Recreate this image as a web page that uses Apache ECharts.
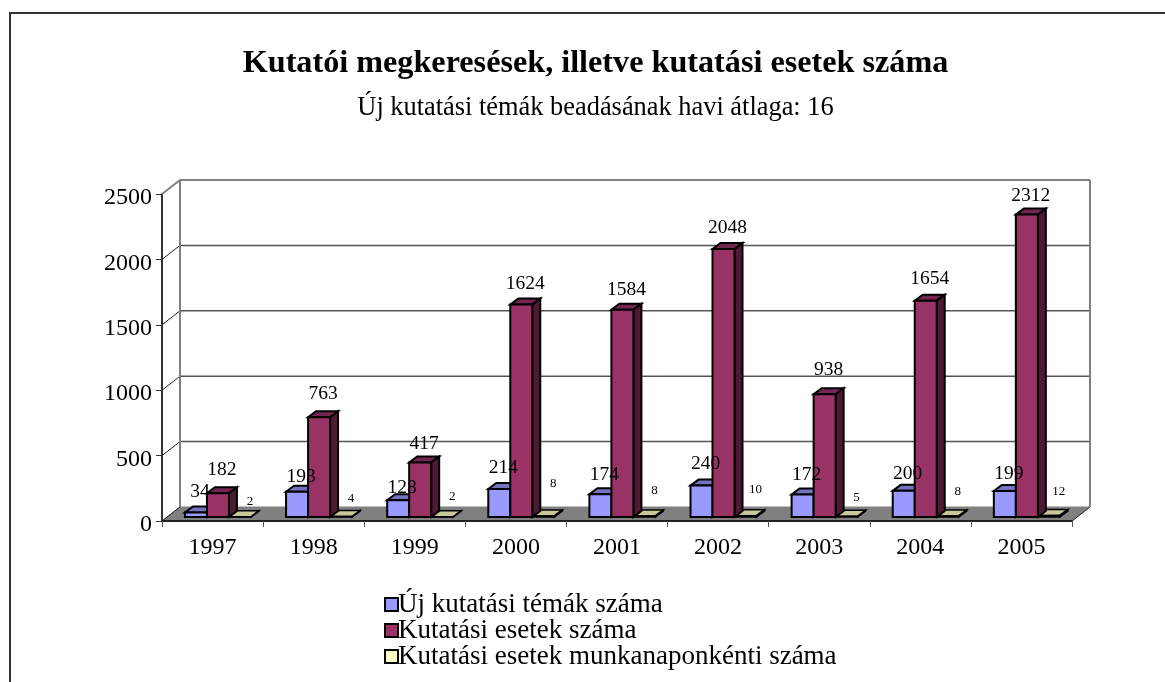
<!DOCTYPE html>
<html>
<head>
<meta charset="utf-8">
<title>Kutatói megkeresések</title>
<style>
  html, body { margin: 0; padding: 0; background: #fff; }
  #chart { width: 1165px; height: 682px; }
</style>
</head>
<body>
<div id="chart"></div>
<script src="https://cdn.jsdelivr.net/npm/echarts@6/dist/echarts.min.js"></script>
<script>
const years = ["1997", "1998", "1999", "2000", "2001", "2002", "2003", "2004", "2005"];
const ujTemak = [34, 193, 128, 214, 174, 240, 172, 200, 199];
const esetek = [182, 763, 417, 1624, 1584, 2048, 938, 1654, 2312];
const munkanaponkent = [2, 4, 2, 8, 8, 10, 5, 8, 12];
const yTicks = [0, 500, 1000, 1500, 2000, 2500];

// how far each value label sits above its bar (the original placed them unevenly)
const ujLift = [15, 9, 6, 15, 13, 16, 14, 11, 11];
const esetekLift = [17, 17, 13, 15, 14, 15, 18, 16, 13];
const munkaLift = [9, 12, 14, 26, 19, 20, 13, 18, 18];

const serif = '"Liberation Serif", "DejaVu Serif", serif';
const depthX = 18, depthY = 14;      // floor depth
const barDepthX = 8, barDepthY = 6;  // bar depth
const barW = 22, barDx = 5.4, barDy = 4;

const chart = echarts.init(document.getElementById("chart"), null, { renderer: "canvas" });

function line(x1, y1, x2, y2, color, width) {
  return {
    type: "line",
    shape: { x1, y1, x2, y2 },
    style: { stroke: color, lineWidth: width },
  };
}

function poly(points, fill, stroke, width) {
  return {
    type: "polygon",
    shape: { points },
    style: { fill, stroke, lineWidth: width, lineJoin: "miter" },
  };
}

// back wall, side wall and floor, one tick at a time
function renderWall(params, api) {
  const sys = params.coordSys;
  const value = api.value(0);
  const y = api.coord([0, value])[1];
  const left = sys.x, right = sys.x + sys.width;
  const children = [];
  if (value === 0) {
    children.push(
      poly(
        [[left, y], [right, y], [right + depthX, y - depthY], [left + depthX, y - depthY]],
        "#808080", "#808080", 1
      ),
      line(left, y, left + depthX, y - depthY, "#222", 1),
      line(right, y, right + depthX, y - depthY, "#333", 1)
    );
  } else if (value === yTicks[yTicks.length - 1]) {
    const bottom = api.coord([0, 0])[1];
    children.push(
      line(left + depthX, y - depthY, right + depthX, y - depthY, "#808080", 2),
      line(left + depthX, y - depthY, left + depthX, bottom - depthY, "#808080", 2),
      line(right + depthX, y - depthY, right + depthX, bottom - depthY, "#808080", 2),
      line(left, y, left + depthX, y - depthY, "#808080", 2)
    );
  } else {
    children.push(
      line(left + depthX, y - depthY, right + depthX, y - depthY, "#555", 1.5),
      line(left, y, left + depthX, y - depthY, "#222", 1)
    );
  }
  return { type: "group", children };
}

function makeBarRenderer(slot, front, top, side, border) {
  return function (params, api) {
    const i = api.value(0);
    const base = api.coord([i, 0]);
    const tip = api.coord([i, api.value(1)]);
    const x0 = base[0] + barDx + (slot - 1.5) * barW;
    const x1 = x0 + barW;
    const y0 = base[1] - barDy;
    const y1 = tip[1] - barDy;
    return {
      type: "group",
      children: [
        poly([[x0, y1], [x1, y1], [x1 + barDepthX, y1 - barDepthY], [x0 + barDepthX, y1 - barDepthY]], top, "#000", border),
        poly([[x1, y1], [x1 + barDepthX, y1 - barDepthY], [x1 + barDepthX, y0 - barDepthY], [x1, y0]], side, "#000", border),
        poly([[x0, y1], [x1, y1], [x1, y0], [x0, y0]], front, "#000", border),
      ],
    };
  };
}

// value labels go in their own series so they stay above all the bars
function renderLabel(params, api) {
  const i = api.value(0);
  const slot = api.value(2);
  const big = slot < 2;
  const tip = api.coord([i, api.value(1)]);
  const x = tip[0] + barDx + (slot - 1) * barW + (big ? 4 : 10);
  const y = tip[1] - barDy - barDepthY - api.value(3);
  return {
    type: "text",
    x,
    y,
    style: {
      text: String(api.value(1)),
      fill: "#000",
      font: (big ? 19.5 : 13) + "px " + serif,
      align: "center",
      verticalAlign: "middle",
    },
  };
}

const labelRows = [];
[[ujTemak, ujLift], [esetek, esetekLift], [munkanaponkent, munkaLift]].forEach(([values, lifts], slot) => {
  values.forEach((v, i) => labelRows.push([i, v, slot, lifts[i]]));
});

function indexed(values) {
  return values.map((v, i) => [i, v]);
}

const option = {
  animation: false,
  backgroundColor: "#fff",
  title: [
    {
      text: "Kutatói megkeresések, illetve kutatási esetek száma",
      left: 590.5,
      top: 43,
      textAlign: "center",
      textStyle: { fontFamily: serif, fontSize: 32.2, fontWeight: "bold", color: "#000" },
    },
    {
      text: "Új kutatási témák beadásának havi átlaga: 16",
      left: 590.5,
      top: 90,
      textAlign: "center",
      textStyle: { fontFamily: serif, fontSize: 26.4, fontWeight: "normal", color: "#000" },
    },
  ],
  graphic: [
    {
      type: "polyline",
      shape: { points: [[10, 682], [10, 13], [1165, 13]] },
      style: { stroke: "#333", lineWidth: 2, fill: null },
    },
  ],
  legend: {
    orient: "vertical",
    left: 379,
    top: 586,
    itemWidth: 13,
    itemHeight: 13,
    itemGap: -1,
    icon: "rect",
    data: ["Új kutatási témák száma", "Kutatási esetek száma", "Kutatási esetek munkanaponkénti száma"],
    itemStyle: { borderColor: "#000", borderWidth: 2 },
    textStyle: { fontFamily: serif, fontSize: 27, color: "#000", padding: [0, 0, 0, -5] },
  },
  grid: { left: 162, right: 93, top: 194, bottom: 161 },
  xAxis: {
    type: "category",
    data: years,
    axisLine: { show: true, lineStyle: { color: "#222", width: 2 } },
    axisTick: { show: true, alignWithLabel: false, length: 6, lineStyle: { color: "#555", width: 1 } },
    axisLabel: { fontFamily: serif, fontSize: 24, color: "#000", margin: 15 },
    splitLine: { show: false },
    z: 6,
  },
  yAxis: {
    type: "value",
    min: 0,
    max: 2500,
    interval: 500,
    axisLine: { show: true, lineStyle: { color: "#333", width: 2 } },
    axisTick: { show: true, length: 6, lineStyle: { color: "#333", width: 1 } },
    axisLabel: {
      fontFamily: serif,
      fontSize: 24,
      color: "#000",
      margin: 10,
      verticalAlign: "top",
      lineHeight: 8,
      formatter: (v) => String(v),
    },
    splitLine: { show: false },
  },
  series: [
    {
      name: "walls",
      type: "custom",
      z: 1,
      data: yTicks.map((v) => [v]),
      encode: { y: 0 },
      renderItem: renderWall,
    },
    {
      name: "Új kutatási témák száma",
      type: "custom",
      z: 2,
      itemStyle: { color: "#9999ff" },
      data: indexed(ujTemak),
      encode: { x: 0, y: 1 },
      renderItem: makeBarRenderer(0, "#9999ff", "#7373bf", "#4d4d80", 2),
    },
    {
      name: "Kutatási esetek munkanaponkénti száma",
      type: "custom",
      z: 3,
      itemStyle: { color: "#ffffcc" },
      data: indexed(munkanaponkent),
      encode: { x: 0, y: 1 },
      renderItem: makeBarRenderer(2, "#ffffcc", "#c8c89a", "#808066", 1.5),
    },
    {
      name: "Kutatási esetek száma",
      type: "custom",
      z: 4,
      itemStyle: { color: "#993366" },
      data: indexed(esetek),
      encode: { x: 0, y: 1 },
      renderItem: makeBarRenderer(1, "#993366", "#732650", "#4d1a33", 2),
    },
    {
      name: "labels",
      type: "custom",
      z: 5,
      data: labelRows,
      encode: { x: 0, y: 1 },
      renderItem: renderLabel,
    },
  ],
};

chart.setOption(option);
</script>
</body>
</html>
